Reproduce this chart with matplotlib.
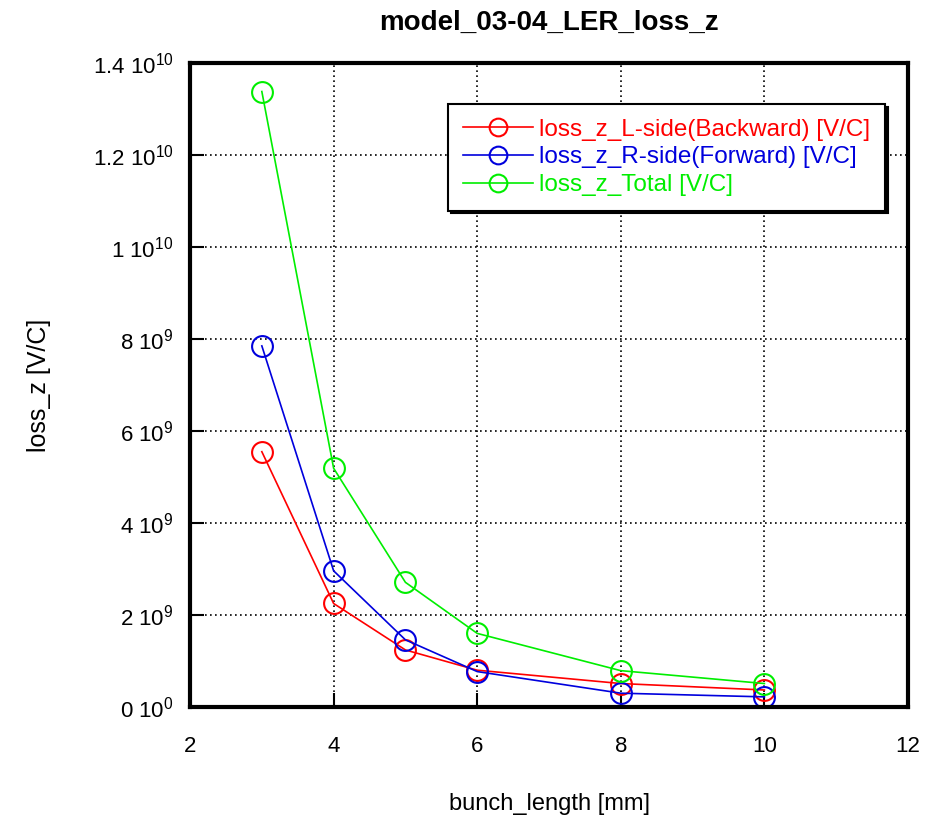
import matplotlib.pyplot as plt
import numpy as np

plt.rcParams['font.family'] = ['Liberation Sans', 'DejaVu Sans']
plt.rcParams['mathtext.default'] = 'regular'

bunch_length = [3, 4, 5, 6, 8, 10]
loss_L = [5.55e9, 2.25e9, 1.24e9, 0.80e9, 0.51e9, 0.37e9]
loss_R = [7.85e9, 2.96e9, 1.46e9, 0.77e9, 0.30e9, 0.22e9]
loss_total = [13.38e9, 5.19e9, 2.71e9, 1.60e9, 0.79e9, 0.51e9]

yticks = [0, 2e9, 4e9, 6e9, 8e9, 1e10, 1.2e10, 1.4e10]
ytick_labels = [r'0 $10^{0}$', r'2 $10^{9}$', r'4 $10^{9}$', r'6 $10^{9}$', r'8 $10^{9}$',
                r'1 $10^{10}$', r'1.2 $10^{10}$', r'1.4 $10^{10}$']
xticks = [2, 4, 6, 8, 10, 12]

fig = plt.figure(figsize=(9.38, 8.18), dpi=100)
ax = fig.add_axes([0.2026, 0.1357, 0.7654, 0.7873])

ax.plot(bunch_length, loss_L, color='#ff0000', marker='o', mfc='none', ms=15, mew=1.5, lw=1.2,
        label='loss_z_L-side(Backward) [V/C]')
ax.plot(bunch_length, loss_R, color='#0000dd', marker='o', mfc='none', ms=15, mew=1.5, lw=1.2,
        label='loss_z_R-side(Forward) [V/C]')
ax.plot(bunch_length, loss_total, color='#00ee00', marker='o', mfc='none', ms=15, mew=1.5, lw=1.2,
        label='loss_z_Total [V/C]')

ax.set_xlim(2, 12)
ax.set_ylim(0, 1.4e10)
ax.set_xticks(xticks)
ax.set_xticklabels([str(t) for t in xticks])
ax.set_yticks(yticks)
ax.set_yticklabels(ytick_labels)
ax.tick_params(direction='in', length=10, width=1.5, labelsize=16, colors='black', pad=12)
ax.tick_params(axis='x', pad=21)
ax.grid(True, color='black', linestyle=(0, (1, 2)), linewidth=1.2)
for s in ax.spines.values():
    s.set_linewidth(3)

ax.set_title('model_03-04_LER_loss_z', fontsize=20, fontweight='bold', pad=24)
ax.set_xlabel('bunch_length [mm]', fontsize=17, labelpad=26)
ax.set_ylabel('loss_z [V/C]', fontsize=18, labelpad=30)

leg = ax.legend(loc='upper right', bbox_to_anchor=(0.968, 0.936), borderaxespad=0, fontsize=17.5,
                fancybox=False, shadow={'color': 'black', 'alpha': 1}, framealpha=1,
                edgecolor='black', handlelength=2.9, handletextpad=0.25, borderpad=0.6,
                labelspacing=0.23, markerscale=0.85)
leg.get_frame().set_linewidth(1.5)
for text, line in zip(leg.get_texts(), leg.get_lines()):
    text.set_color(line.get_color())

fig.savefig('out.png', dpi=100)
